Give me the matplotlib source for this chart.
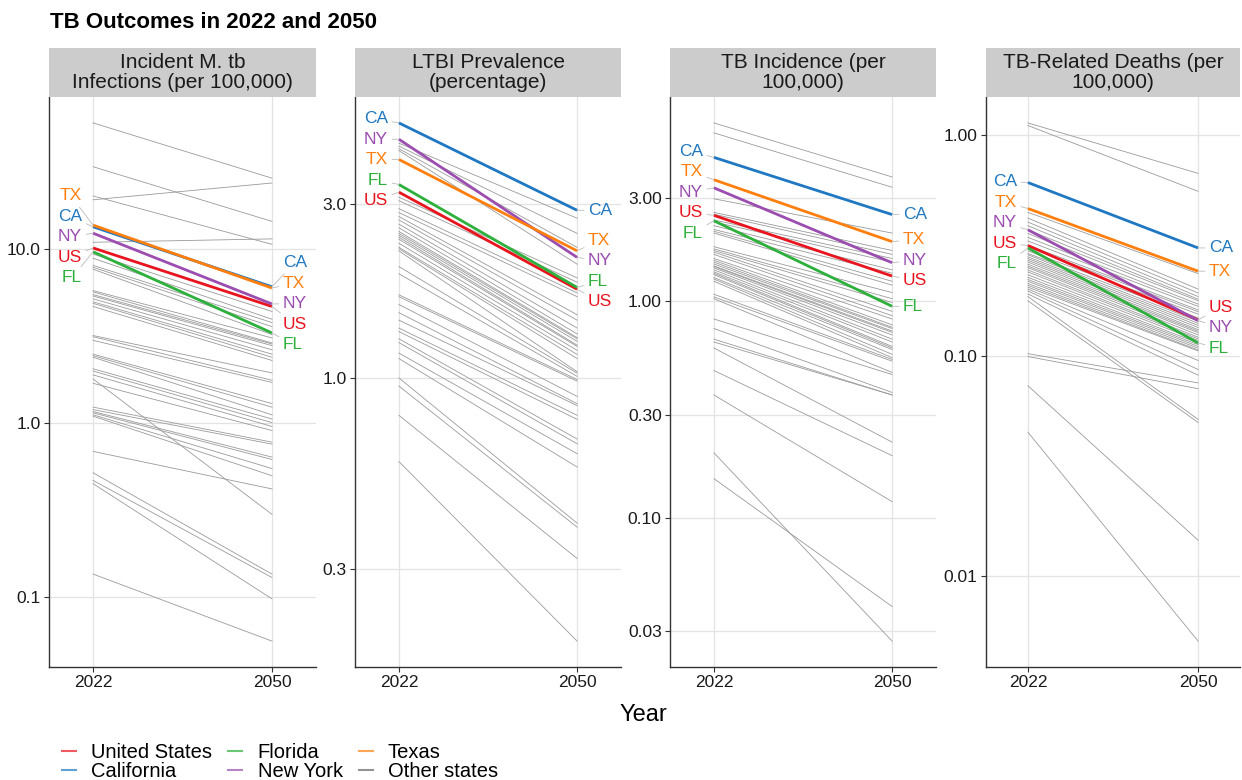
import numpy as np
import matplotlib
matplotlib.use('Agg')
import matplotlib.pyplot as plt
from matplotlib.lines import Line2D
from matplotlib.patches import Rectangle
from matplotlib.ticker import NullLocator

plt.rcParams['font.family'] = ['Liberation Sans', 'DejaVu Sans']

years = [2022, 2050]

# highlighted series
state_codes = ['US', 'CA', 'FL', 'NY', 'TX']
state_names = ['United States', 'California', 'Florida', 'New York', 'Texas']
state_colors = ['#E8141E', '#1F78C1', '#2DB03C', '#9B4DB0', '#FF7F0E']
other_color = '#9A9A9A'

panel_titles = [
    'Incident M. tb\nInfections (per 100,000)',
    'LTBI Prevalence\n(percentage)',
    'TB Incidence (per\n100,000)',
    'TB-Related Deaths (per\n100,000)',
]

# --- Incident M. tb infections (per 100,000) ---
infections_2022 = [10.2, 13.5, 9.7, 12.4, 13.8]
infections_2050 = [4.7, 6.1, 3.31, 4.86, 6.0]
infections_other_2022 = [53.4, 29.9, 20.3, 19.3, 11.0, 9.4, 8.9, 8.1, 7.9, 7.7,
                         5.8, 5.7, 5.5, 5.4, 5.2, 5.0, 4.9, 4.7, 3.2, 3.15,
                         3.0, 2.5, 2.45, 2.4, 2.06, 2.0, 1.9, 1.8, 1.7, 1.24,
                         1.2, 1.17, 1.15, 1.12, 1.1, 0.69, 0.52, 0.47, 0.45, 0.136]
infections_other_2050 = [25.7, 14.5, 10.7, 24.1, 11.5, 4.4, 3.97, 3.8, 3.6, 3.24,
                         3.1, 2.9, 2.86, 2.8, 2.65, 2.5, 2.4, 2.3, 1.95, 1.77,
                         1.72, 1.3, 1.24, 1.12, 1.06, 1.01, 0.96, 0.30, 0.91, 0.78,
                         0.76, 0.64, 0.62, 0.55, 0.50, 0.42, 0.136, 0.13, 0.098, 0.056]

# --- LTBI prevalence (percentage) ---
ltbi_2022 = [3.23, 5.0, 3.39, 4.51, 3.97]
ltbi_2050 = [1.75, 2.88, 1.77, 2.14, 2.23]
ltbi_other_2022 = [4.40, 4.32, 4.25, 4.20, 3.13, 3.06, 2.91, 2.84, 2.77, 2.71,
                   2.64, 2.58, 2.52, 2.49, 2.46, 2.43, 2.40, 2.34, 2.28, 2.26,
                   2.23, 2.02, 1.93, 1.69, 1.67, 1.59, 1.51, 1.44, 1.37, 1.34,
                   1.28, 1.25, 1.17, 1.13, 1.0, 0.95, 0.79, 0.59]
ltbi_other_2050 = [2.74, 2.49, 2.28, 2.05, 1.88, 1.83, 1.71, 1.67, 1.49, 1.44,
                   1.37, 1.32, 1.29, 1.28, 1.26, 1.23, 1.22, 1.19, 1.16, 1.13,
                   1.04, 1.03, 1.01, 0.99, 0.98, 0.89, 0.85, 0.84, 0.79, 0.77,
                   0.68, 0.66, 0.62, 0.57, 0.40, 0.39, 0.32, 0.19]

# --- TB incidence (per 100,000) ---
incidence_2022 = [2.50, 4.63, 2.36, 3.35, 3.65]
incidence_2050 = [1.31, 2.52, 0.95, 1.51, 1.89]
incidence_other_2022 = [6.68, 6.01, 2.98, 2.58, 2.53, 2.38, 2.33, 2.24, 2.15, 2.11,
                        2.07, 1.79, 1.75, 1.72, 1.69, 1.65, 1.58, 1.55, 1.52, 1.49,
                        1.46, 1.45, 1.43, 1.40, 1.37, 1.35, 1.33, 1.29, 1.27, 1.24,
                        1.08, 1.05, 1.03, 0.83, 0.75, 0.67, 0.65, 0.61, 0.48, 0.37,
                        0.20, 0.152]
incidence_other_2050 = [3.76, 3.37, 2.07, 1.72, 1.65, 1.58, 1.52, 1.40, 1.35, 1.24,
                        1.19, 1.10, 1.03, 0.99, 0.90, 0.86, 0.83, 0.78, 0.76, 0.75,
                        0.73, 0.72, 0.70, 0.67, 0.65, 0.62, 0.61, 0.60, 0.57, 0.55,
                        0.54, 0.53, 0.47, 0.46, 0.38, 0.37, 0.37, 0.224, 0.194, 0.119,
                        0.027, 0.039]

# --- TB-related deaths (per 100,000) ---
deaths_2022 = [0.315, 0.607, 0.307, 0.371, 0.463]
deaths_2050 = [0.145, 0.307, 0.114, 0.144, 0.241]
deaths_other_2022 = [1.13, 1.10, 0.445, 0.419, 0.402, 0.387, 0.371, 0.357, 0.343, 0.330,
                     0.316, 0.310, 0.298, 0.290, 0.286, 0.280, 0.275, 0.270, 0.265, 0.259,
                     0.254, 0.250, 0.244, 0.239, 0.232, 0.226, 0.221, 0.217, 0.212, 0.208,
                     0.204, 0.200, 0.196, 0.190, 0.185, 0.177, 0.102, 0.099, 0.073, 0.045]
deaths_other_2050 = [0.668, 0.554, 0.235, 0.200, 0.192, 0.185, 0.180, 0.177, 0.171, 0.167,
                     0.161, 0.158, 0.154, 0.148, 0.143, 0.140, 0.137, 0.134, 0.131, 0.129,
                     0.127, 0.124, 0.121, 0.119, 0.117, 0.114, 0.112, 0.110, 0.108, 0.106,
                     0.105, 0.095, 0.0865, 0.0815, 0.0514, 0.0498, 0.0752, 0.0708, 0.0146, 0.0051]

panel_ticks = [
    ([0.1, 1.0, 10.0], ['0.1', '1.0', '10.0']),
    ([0.3, 1.0, 3.0], ['0.3', '1.0', '3.0']),
    ([0.03, 0.1, 0.3, 1.0, 3.0], ['0.03', '0.10', '0.30', '1.00', '3.00']),
    ([0.01, 0.1, 1.0], ['0.01', '0.10', '1.00']),
]

panels = [
    (infections_2022, infections_2050, infections_other_2022, infections_other_2050),
    (ltbi_2022, ltbi_2050, ltbi_other_2022, ltbi_other_2050),
    (incidence_2022, incidence_2050, incidence_other_2022, incidence_other_2050),
    (deaths_2022, deaths_2050, deaths_other_2022, deaths_other_2050),
]

W, H = 1242, 780
fig = plt.figure(figsize=(W / 100, H / 100), dpi=100)

panel_left = [49, 355, 670, 986]
panel_right = [316, 621, 936, 1240]
panel_top, panel_bottom = 97, 667
strip_top = 48

LABEL_GAP = 20.5   # px between stacked labels
LABEL_DX = 11      # px from line end to label


def spread(targets, gap):
    """Push sorted 1-D positions apart (least-squares, min spacing gap)."""
    t = [v - i * gap for i, v in enumerate(targets)]
    blocks = []
    for v in t:
        blocks.append([v, 1])
        while len(blocks) > 1 and blocks[-2][0] / blocks[-2][1] > blocks[-1][0] / blocks[-1][1]:
            s, c = blocks.pop()
            blocks[-1][0] += s
            blocks[-1][1] += c
    out = []
    for s, c in blocks:
        out += [s / c] * c
    return [v + i * gap for i, v in enumerate(out)]


def add_labels(ax, year, values, side):
    pts = [ax.transData.transform((year, v)) for v in values]
    order = sorted(range(len(values)), key=lambda i: -values[i])
    down = [-pts[i][1] for i in order]
    placed = spread(down, LABEL_GAP)
    for k, i in enumerate(order):
        dy = -placed[k] - pts[i][1]
        dx = -LABEL_DX if side == 'left' else LABEL_DX
        ax.annotate(state_codes[i], xy=(year, values[i]), xytext=(dx, dy),
                    textcoords='offset pixels', fontsize=12.5,
                    color=state_colors[i], va='center',
                    ha='right' if side == 'left' else 'left',
                    arrowprops=dict(arrowstyle='-', color='#BBBBBB', lw=0.6,
                                    shrinkA=1, shrinkB=0),
                    annotation_clip=False, zorder=5)


for p, (v22, v50, o22, o50) in enumerate(panels):
    x0, x1 = panel_left[p], panel_right[p]
    ax = fig.add_axes([x0 / W, 1 - panel_bottom / H,
                       (x1 - x0) / W, (panel_bottom - panel_top) / H])
    ax.set_yscale('log')

    for a, b in zip(o22, o50):
        ax.plot(years, [a, b], color=other_color, lw=0.6, zorder=2)
    for i in range(len(state_codes)):
        ax.plot(years, [v22[i], v50[i]], color=state_colors[i], lw=2.0,
                zorder=3, solid_capstyle='butt')

    allv = list(v22) + list(v50) + list(o22) + list(o50)
    lo, hi = np.log10(min(allv)), np.log10(max(allv))
    pad = 0.05 * (hi - lo)
    ax.set_ylim(10 ** (lo - pad), 10 ** (hi + pad))
    span = years[1] - years[0]
    xpad = span * 0.165 / 0.67
    ax.set_xlim(years[0] - xpad, years[1] + xpad)

    ticks, labels = panel_ticks[p]
    ax.set_yticks(ticks)
    ax.set_yticklabels(labels)
    ax.yaxis.set_minor_locator(NullLocator())
    ax.set_xticks(years)
    ax.set_xticklabels([str(y) for y in years])

    ax.grid(True, color='#E3E3E3', lw=0.9, zorder=0)
    ax.set_axisbelow(True)
    for s in ['top', 'right']:
        ax.spines[s].set_visible(False)
    for s in ['left', 'bottom']:
        ax.spines[s].set_color('#333333')
        ax.spines[s].set_linewidth(1.0)
    ax.tick_params(axis='both', length=3.5, width=0.8, color='#333333',
                   labelsize=12.5, labelcolor='#1A1A1A', pad=2.5)

    add_labels(ax, years[0], v22, 'left')
    add_labels(ax, years[1], v50, 'right')

    # facet strip
    fig.patches.append(Rectangle((x0 / W, 1 - panel_top / H), (x1 - x0) / W,
                                 (panel_top - strip_top) / H, transform=fig.transFigure,
                                 facecolor='#CCCCCC', edgecolor='none'))
    fig.text((x0 + x1) / 2 / W, 1 - (panel_top + strip_top) / 2 / H, panel_titles[p],
             ha='center', va='center', fontsize=15, color='#1A1A1A', linespacing=1.05)

fig.text(50 / W, 1 - 23 / H, 'TB Outcomes in 2022 and 2050', fontsize=16,
         fontweight='bold', ha='left', va='center')
fig.text(643 / W, 1 - 715 / H, 'Year', fontsize=17, ha='center', va='center')

handles = [Line2D([], [], color=c, lw=1.5, alpha=0.7) for c in state_colors]
handles.append(Line2D([], [], color='#666666', lw=1.5, alpha=0.7))
names = state_names + ['Other states']
# filled column by column: US, CA | FL, NY | TX, Other
fig.legend(handles, names,
           loc='lower left', bbox_to_anchor=(62 / W, -1 / H), ncol=3, frameon=False,
           fontsize=14.5, handlelength=0.7, handletextpad=0.75, columnspacing=0.8,
           labelspacing=0.0, borderpad=0, borderaxespad=0)

fig.savefig('out.png', dpi=100)
